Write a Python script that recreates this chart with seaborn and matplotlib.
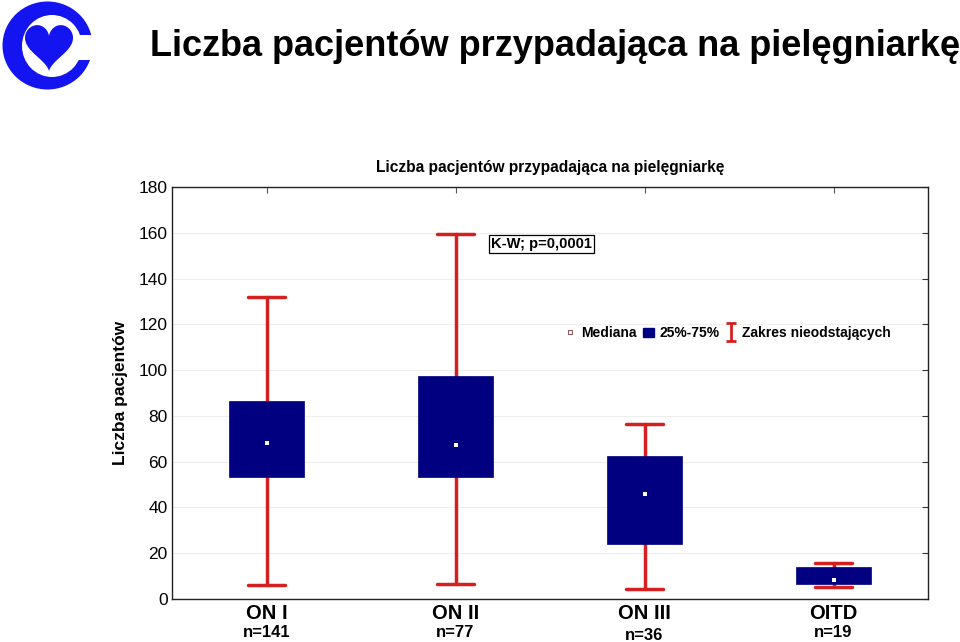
import numpy as np
import matplotlib
matplotlib.use("Agg")
import matplotlib.pyplot as plt
import seaborn as sns
from matplotlib.patches import Ellipse, Polygon, Rectangle
from matplotlib.lines import Line2D
from matplotlib.path import Path

categories = ["ON I", "ON II", "ON III", "OITD"]
counts = ["n=141", "n=77", "n=36", "n=19"]
medians = [68.2, 67.3, 45.9, 8.3]
q1 = [53.3, 53.3, 24.0, 6.6]
q3 = [86.5, 97.4, 62.5, 14.0]
whisk_lo = [6.1, 6.6, 4.4, 5.2]
whisk_hi = [131.9, 159.5, 76.5, 15.7]
yticks = [0, 20, 40, 60, 80, 100, 120, 140, 160, 180]

sns.set_style("white")
plt.rcParams['font.family'] = ['Liberation Sans', 'DejaVu Sans']
plt.rcParams['text.color'] = 'black'
plt.rcParams['axes.labelcolor'] = 'black'
plt.rcParams['xtick.color'] = 'black'
plt.rcParams['ytick.color'] = 'black'

fig = plt.figure(figsize=(9.6, 6.42), dpi=100)
ax = fig.add_axes([172/960, 1-599/642, 756/960, 412/642])

NAVY = "#000080"
RED = "#d42020"

stats = []
for i, c in enumerate(categories):
    stats.append(dict(med=medians[i], q1=q1[i], q3=q3[i], whislo=whisk_lo[i],
                      whishi=whisk_hi[i], fliers=[], label=c))
pos = np.arange(len(categories))
ax.bxp(stats, positions=pos, widths=0.4, patch_artist=True, showcaps=True,
       boxprops=dict(facecolor=NAVY, edgecolor=NAVY, linewidth=0.5),
       whiskerprops=dict(color=RED, linewidth=2.5),
       capprops=dict(color=RED, linewidth=2.5),
       medianprops=dict(linewidth=0),
       capwidths=0.2)
for ln in ax.lines:
    ln.set_zorder(2)
for p in ax.patches:
    p.set_zorder(3)
sns.scatterplot(x=pos, y=medians, ax=ax, marker="s", s=9, color="white",
                edgecolor="white", linewidth=0, zorder=5, legend=False)

ax.set_xlim(-0.5, 3.5)
ax.set_ylim(0, 180)
ax.set_yticks(yticks)
ax.set_yticklabels([str(v) for v in yticks], fontsize=12.5)
ax.set_xticks(pos)
ax.set_xticklabels([])
for i in range(4):
    ax.text(pos[i], -2.3, categories[i], ha="center", va="top", fontsize=14.5,
            fontweight="bold")
    ax.text(pos[i], -11.5 - (1 if i == 2 else 0), counts[i], ha="center", va="top",
            fontsize=12, fontweight="bold")
ax.tick_params(axis="y", direction="in", length=0, pad=3)
ax.tick_params(axis="x", direction="in", length=4, width=0.8, color="#555555",
               top=True)
ax.yaxis.set_tick_params(which="both", right=True, length=4, color="#333333")
ax.grid(axis="y", color="#eeeeee", linewidth=0.8, zorder=0)
ax.set_axisbelow(True)
for s in ax.spines.values():
    s.set_color("#222222")
    s.set_linewidth(1.0)
    s.set_visible(True)

ax.set_ylabel("Liczba pacjentów", fontsize=12.5, fontweight="bold")
ax.yaxis.set_label_coords(-0.058, 0.5)
ax.set_title("Liczba pacjentów przypadająca na pielęgniarkę", fontsize=11.2,
             fontweight="bold", pad=11)

ax.text(0.422, 0.862, "K-W; p=0,0001", transform=ax.transAxes, fontsize=10.5,
        fontweight="bold", ha="left", va="center",
        bbox=dict(boxstyle="square,pad=0.15", facecolor="white", edgecolor="black", linewidth=0.9))

ibeam = Path([(-0.6, 1), (0.6, 1), (0, 1), (0, -1), (-0.6, -1), (0.6, -1)],
             [Path.MOVETO, Path.LINETO, Path.MOVETO, Path.LINETO, Path.MOVETO, Path.LINETO])
h_med = Line2D([], [], marker="s", linestyle="none", markersize=3.5,
               markerfacecolor="white", markeredgecolor="#8b5a5a", markeredgewidth=0.8)
h_box = Rectangle((0, 0), 1, 1, facecolor=NAVY, edgecolor=NAVY)
h_whi = Line2D([], [], marker=ibeam, linestyle="none", markersize=13,
               markerfacecolor="none", markeredgecolor=RED, markeredgewidth=2)
leg = ax.legend([h_med, h_box, h_whi], ["Mediana", "25%-75%", "Zakres nieodstających"],
                loc="center", bbox_to_anchor=(0.735, 0.645), ncol=3, frameon=False,
                handlelength=0.8, handletextpad=0.4, columnspacing=0.4,
                prop=dict(size=10, weight="bold"))

fig.text(150/960, 1-47/642, "Liczba pacjentów przypadająca na pielęgniarkę",
         fontsize=26, fontweight="bold", ha="left", va="center")

# logo
lax = fig.add_axes([0, 1-92/642, 95/960, 92/642])
lax.set_xlim(0, 95)
lax.set_ylim(0, 92)
lax.set_aspect("equal")
lax.axis("off")
BLUE = "#1414f0"
lax.add_patch(Ellipse((47.5, 46.5), 90, 88, facecolor=BLUE, edgecolor="none", zorder=1))
lax.add_patch(Ellipse((52, 46), 60, 62, facecolor="white", edgecolor="none", zorder=2))
lax.add_patch(Rectangle((62, 32), 40, 25, facecolor="white", edgecolor="none", zorder=3))
t = np.linspace(0, 2*np.pi, 200)
hx = 16*np.sin(t)**3
hy = 13*np.cos(t) - 5*np.cos(2*t) - 2*np.cos(3*t) - np.cos(4*t)
lax.add_patch(Polygon(np.c_[49 + hx*1.5, 47.8 + hy*1.6], closed=True,
                      facecolor=BLUE, edgecolor="none", zorder=4))

fig.savefig("out.png", dpi=100)
